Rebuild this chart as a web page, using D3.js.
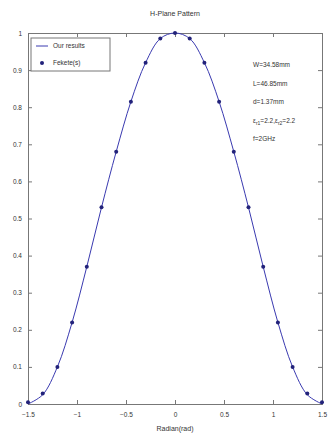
<!DOCTYPE html>
<html>
<head>
<meta charset="utf-8">
<script src="https://cdn.jsdelivr.net/npm/d3@7"></script>
<style>
  body { margin: 0; background: #fff; }
  text { font-family: "Liberation Sans", Arial, sans-serif; fill: #333; }
</style>
</head>
<body>
<div id="chart"></div>
<script>
// angle samples (rad) and normalised pattern
const angles = [-1.5, -1.35, -1.2, -1.05, -0.9, -0.75, -0.6, -0.45, -0.3, -0.15, 0,
  0.15, 0.3, 0.45, 0.6, 0.75, 0.9, 1.05, 1.2, 1.35, 1.5];
const ourResults = [0, 0.025, 0.1, 0.22, 0.37, 0.53, 0.68, 0.815, 0.92, 0.985, 1,
  0.985, 0.92, 0.815, 0.68, 0.53, 0.37, 0.22, 0.1, 0.025, 0];
const reference = [0.005, 0.028, 0.1, 0.22, 0.37, 0.53, 0.68, 0.815, 0.92, 0.985, 1,
  0.985, 0.92, 0.815, 0.68, 0.53, 0.37, 0.22, 0.1, 0.028, 0.005];
const xTicks = [-1.5, -1, -0.5, 0, 0.5, 1, 1.5];
const yTicks = [0, 0.1, 0.2, 0.3, 0.4, 0.5, 0.6, 0.7, 0.8, 0.9, 1];
const legendLabels = ['Our results', 'Fekete(s)'];
const notes = ['W=34.58mm', 'L=46.85mm', 'd=1.37mm', null, 'f=2GHz'];

const W = 328, H = 438;
const margin = { top: 33, right: 6, bottom: 34, left: 28 };
const width = W - margin.left - margin.right;
const height = H - margin.top - margin.bottom;
const blue = '#3a3ab0';

const svg = d3.select('#chart').append('svg')
  .attr('width', W).attr('height', H);
const g = svg.append('g')
  .attr('transform', `translate(${margin.left},${margin.top})`);

const x = d3.scaleLinear().domain([-1.5, 1.5]).range([0, width]);
const y = d3.scaleLinear().domain([0, 1]).range([height, 0]);

// frame with inward ticks, matlab style
const axisStyle = (sel) => {
  sel.select('.domain').attr('stroke', '#777');
  sel.selectAll('.tick line').attr('stroke', '#777');
  sel.selectAll('text').style('font-size', '6.5px').attr('fill', '#444');
};
g.append('g').attr('transform', `translate(0,${height})`)
  .call(d3.axisBottom(x).tickValues(xTicks).tickSize(-4).tickPadding(8).tickFormat(d3.format('')))
  .call(axisStyle);
g.append('g')
  .call(d3.axisTop(x).tickValues(xTicks).tickSize(-4).tickFormat(''))
  .call(axisStyle);
g.append('g')
  .call(d3.axisLeft(y).tickValues(yTicks).tickSize(-4).tickPadding(6).tickFormat(d3.format('')))
  .call(axisStyle);
g.append('g').attr('transform', `translate(${width},0)`)
  .call(d3.axisRight(y).tickValues(yTicks).tickSize(-4).tickFormat(''))
  .call(axisStyle);

// curve
const line = d3.line().x((d, i) => x(angles[i])).y(d => y(d)).curve(d3.curveCatmullRom);
g.append('path').datum(ourResults)
  .attr('d', line).attr('fill', 'none').attr('stroke', blue).attr('stroke-width', 1);

// markers
g.selectAll('.pt').data(reference).enter().append('circle')
  .attr('class', 'pt')
  .attr('cx', (d, i) => x(angles[i])).attr('cy', d => y(d))
  .attr('r', 2).attr('fill', '#22227a');

// title and axis label
svg.append('text').attr('x', margin.left + width / 2).attr('y', 16)
  .attr('text-anchor', 'middle').style('font-size', '7px').text('H-Plane Pattern');
svg.append('text').attr('x', margin.left + width / 2).attr('y', 431)
  .attr('text-anchor', 'middle').style('font-size', '7px').text('Radian(rad)');

// legend
const lg = g.append('g').attr('transform', 'translate(3,5)');
lg.append('rect').attr('width', 79).attr('height', 33)
  .attr('fill', '#fff').attr('stroke', '#777');
lg.append('line').attr('x1', 5).attr('x2', 17).attr('y1', 8).attr('y2', 8)
  .attr('stroke', blue);
lg.append('circle').attr('cx', 11).attr('cy', 25).attr('r', 2).attr('fill', '#22227a');
legendLabels.forEach((t, i) => {
  lg.append('text').attr('x', 22).attr('y', 10 + i * 17)
    .style('font-size', '6.5px').text(t);
});

// parameter notes
const ng = svg.append('g').attr('transform', 'translate(253,0)');
notes.forEach((t, i) => {
  const ty = 67 + i * 18.5;
  if (t) {
    ng.append('text').attr('x', 0).attr('y', ty).style('font-size', '6.5px').text(t);
  } else {
    const tx = ng.append('text').attr('x', 0).attr('y', ty).style('font-size', '6.5px');
    tx.append('tspan').text('ε');
    tx.append('tspan').attr('dy', 2).style('font-size', '5px').text('r1');
    tx.append('tspan').attr('dy', -2).text('=2.2,ε');
    tx.append('tspan').attr('dy', 2).style('font-size', '5px').text('r2');
    tx.append('tspan').attr('dy', -2).text('=2.2');
  }
});
</script>
</body>
</html>
